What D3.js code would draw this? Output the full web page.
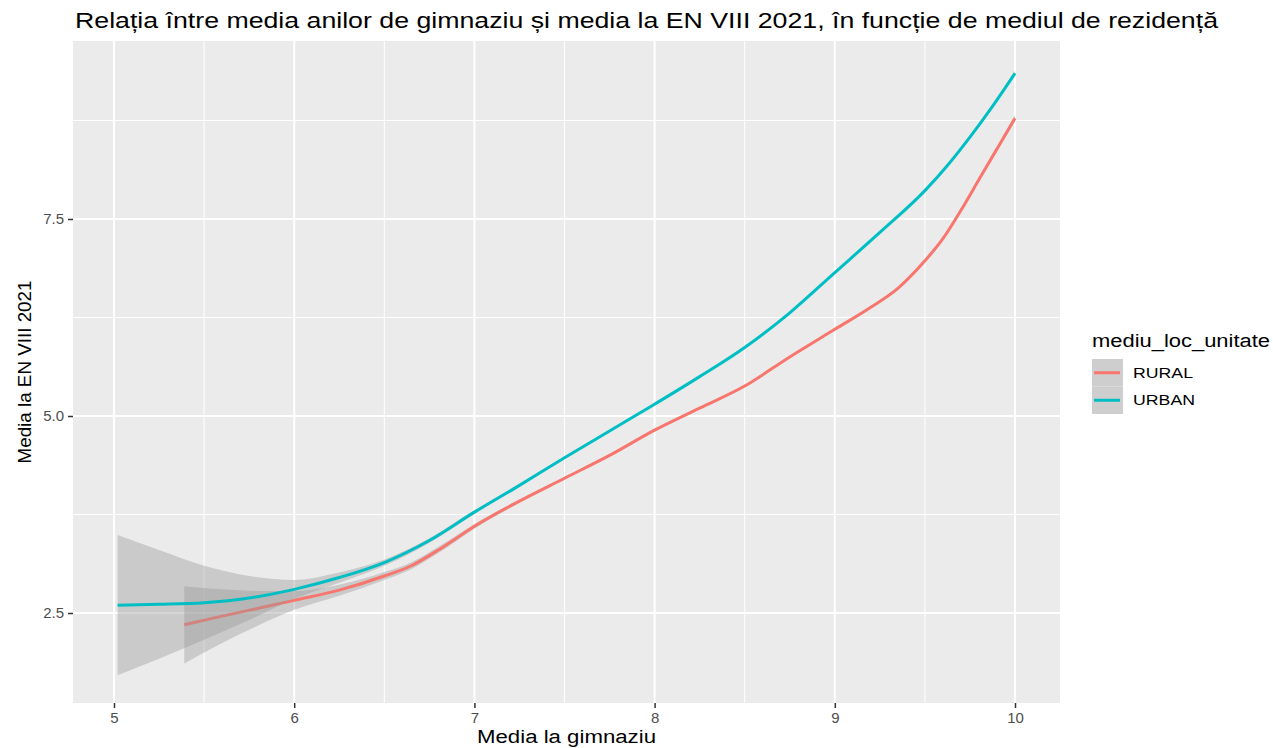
<!DOCTYPE html>
<html><head><meta charset="utf-8">
<script src="https://cdn.jsdelivr.net/npm/d3@7"></script>
<style>body{margin:0;background:#fff}svg{display:block;font-family:"Liberation Sans",Arial,sans-serif}</style>
</head><body><svg id="c" width="1273" height="748"></svg>
<script>
const titleText = "Relația între media anilor de gimnaziu și media la EN VIII 2021, în funcție de mediul de rezidență";
const xTitle = "Media la gimnaziu";
const yTitle = "Media la EN VIII 2021";
const legendTitle = "mediu_loc_unitate";
const categories = ["RURAL", "URBAN"];
const colors = ["#F8766D", "#00BFC4"];
const xTicks = [5, 6, 7, 8, 9, 10];
const xMinor = [5.5, 6.5, 7.5, 8.5, 9.5];
const yTicks = [2.5, 5.0, 7.5];
const yTickLabels = ["2.5", "5.0", "7.5"];
const yMinor = [3.75, 6.25, 8.75];

const ruralX  = [5.39, 5.6, 5.8, 6.0, 6.25, 6.5, 6.65, 6.8, 6.9, 7.0, 7.25, 7.5, 7.75, 8.0, 8.25, 8.5, 8.75, 9.0, 9.2, 9.35, 9.5, 9.6, 9.7, 9.8, 9.9, 10.0];
const ruralY  = [2.35, 2.46, 2.56, 2.66, 2.79, 2.97, 3.10, 3.30, 3.45, 3.60, 3.92, 4.21, 4.50, 4.82, 5.10, 5.38, 5.75, 6.10, 6.38, 6.62, 6.97, 7.25, 7.61, 8.00, 8.39, 8.78];
const ruralSE = [0.49, 0.34, 0.22, 0.12, 0.07, 0.05, 0.045, 0.04, 0.035, 0.03, 0.02, 0.015, 0.015, 0.015, 0.015, 0.015, 0.015, 0.015, 0.015, 0.02, 0.02, 0.02, 0.025, 0.025, 0.03, 0.04];

const urbanX  = [5.02, 5.25, 5.5, 5.75, 6.0, 6.25, 6.5, 6.75, 7.0, 7.25, 7.5, 7.75, 8.0, 8.25, 8.5, 8.75, 9.0, 9.25, 9.5, 9.625, 9.75, 9.875, 10.0];
const urbanY  = [2.60, 2.61, 2.63, 2.69, 2.80, 2.95, 3.14, 3.42, 3.78, 4.12, 4.47, 4.81, 5.15, 5.50, 5.87, 6.31, 6.82, 7.33, 7.86, 8.18, 8.54, 8.93, 9.35];
const urbanSE = [0.89, 0.69, 0.47, 0.28, 0.12, 0.065, 0.04, 0.03, 0.025, 0.015, 0.012, 0.012, 0.012, 0.012, 0.012, 0.012, 0.012, 0.012, 0.015, 0.015, 0.02, 0.02, 0.03];

const seriesX = [ruralX, urbanX], seriesY = [ruralY, urbanY], seriesSE = [ruralSE, urbanSE];

const svg = d3.select("#c");
const P = {l: 73, r: 1060, t: 41, b: 703};
const x = d3.scaleLinear().domain([4.7725, 10.2497]).range([P.l, P.r]);
const y = d3.scaleLinear().domain([1.358, 9.759]).range([P.b, P.t]);

svg.append("rect").attr("x", P.l).attr("y", P.t).attr("width", P.r - P.l).attr("height", P.b - P.t).attr("fill", "#EBEBEB");
const grid = svg.append("g");
xMinor.forEach(v => grid.append("line").attr("x1", x(v)).attr("x2", x(v)).attr("y1", P.t).attr("y2", P.b).attr("stroke", "#fff").attr("stroke-width", 1));
yMinor.forEach(v => grid.append("line").attr("y1", y(v)).attr("y2", y(v)).attr("x1", P.l).attr("x2", P.r).attr("stroke", "#fff").attr("stroke-width", 1));
xTicks.forEach(v => grid.append("line").attr("x1", x(v)).attr("x2", x(v)).attr("y1", P.t).attr("y2", P.b).attr("stroke", "#fff").attr("stroke-width", 2));
yTicks.forEach(v => grid.append("line").attr("y1", y(v)).attr("y2", y(v)).attr("x1", P.l).attr("x2", P.r).attr("stroke", "#fff").attr("stroke-width", 2));

svg.append("clipPath").attr("id", "clip").append("rect").attr("x", P.l).attr("y", P.t).attr("width", P.r - P.l).attr("height", P.b - P.t);
const plot = svg.append("g").attr("clip-path", "url(#clip)");

categories.forEach((c, i) => {
  const pts = seriesX[i].map((xv, j) => ({x: xv, y: seriesY[i][j], se: seriesSE[i][j]}));
  const area = d3.area().x(d => x(d.x)).y0(d => y(d.y - d.se)).y1(d => y(d.y + d.se)).curve(d3.curveMonotoneX);
  const line = d3.line().x(d => x(d.x)).y(d => y(d.y)).curve(d3.curveMonotoneX);
  plot.append("path").attr("d", area(pts)).attr("fill", "#999999").attr("fill-opacity", 0.4);
  plot.append("path").attr("d", line(pts)).attr("fill", "none").attr("stroke", colors[i]).attr("stroke-width", 3).attr("stroke-linecap", "butt");
});

// axes
const xa = svg.append("g").attr("transform", `translate(0,${P.b})`)
  .call(d3.axisBottom(x).tickValues(xTicks).tickSize(5).tickPadding(4).tickFormat(d3.format("d")));
xa.select(".domain").remove();
xa.selectAll("line").attr("stroke", "#333").attr("stroke-width", 1.5);
xa.selectAll("text").attr("fill", "#4D4D4D").style("font-size", "15px").style("font-family", "Liberation Sans, Arial, sans-serif");

const ya = svg.append("g").attr("transform", `translate(${P.l},0)`)
  .call(d3.axisLeft(y).tickValues(yTicks).tickSize(5).tickPadding(4).tickFormat((d, i) => yTickLabels[i]));
ya.select(".domain").remove();
ya.selectAll("line").attr("stroke", "#333").attr("stroke-width", 1.5);
ya.selectAll("text").attr("fill", "#4D4D4D").style("font-size", "15px").style("font-family", "Liberation Sans, Arial, sans-serif");

// titles
svg.append("text").attr("x", 75).attr("y", 28).attr("font-size", 22).attr("fill", "#000")
  .attr("textLength", 1143).attr("lengthAdjust", "spacingAndGlyphs").text(titleText);
svg.append("text").attr("x", (P.l + P.r) / 2).attr("y", 743).attr("text-anchor", "middle").attr("font-size", 18)
  .attr("textLength", 179).attr("lengthAdjust", "spacingAndGlyphs").text(xTitle);
svg.append("text").attr("transform", `translate(31,${(P.t + P.b) / 2}) rotate(-90)`).attr("text-anchor", "middle").attr("font-size", 18)
  .attr("textLength", 183).attr("lengthAdjust", "spacingAndGlyphs").text(yTitle);

// legend
const lg = svg.append("g");
lg.append("text").attr("x", 1092).attr("y", 347).attr("font-size", 18)
  .attr("textLength", 178).attr("lengthAdjust", "spacingAndGlyphs").text(legendTitle);
const labelLens = [60, 62];
categories.forEach((c, i) => {
  const ky = 359 + i * 27.5;
  lg.append("rect").attr("x", 1092).attr("y", ky).attr("width", 31).attr("height", 27.5).attr("fill", "#F2F2F2");
  lg.append("rect").attr("x", 1092).attr("y", ky).attr("width", 31).attr("height", 27.5).attr("fill", "#999999").attr("fill-opacity", 0.4);
  lg.append("line").attr("x1", 1094).attr("x2", 1120).attr("y1", ky + 13.75).attr("y2", ky + 13.75).attr("stroke", colors[i]).attr("stroke-width", 3);
  lg.append("text").attr("x", 1133).attr("y", ky + 13.75).attr("dy", "0.35em").attr("font-size", 14)
    .attr("textLength", labelLens[i]).attr("lengthAdjust", "spacingAndGlyphs").text(c);
});
</script></body></html>
